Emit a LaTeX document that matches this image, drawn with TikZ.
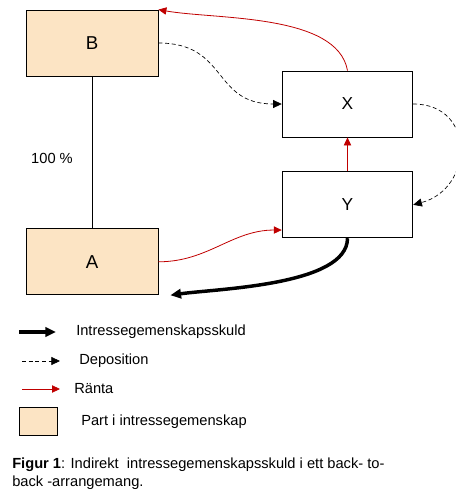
\documentclass[tikz,border=0pt]{standalone}
\usepackage{fontspec}
\setmainfont{Liberation Sans}
\usetikzlibrary{positioning, arrows.meta}
\definecolor{partfill}{HTML}{FCE4C4}
\definecolor{rantared}{HTML}{C00000}
\tikzset{
    party/.style={rectangle, draw=black, fill=partfill, line width=0.6pt, minimum width=99pt, minimum height=49.5pt, font=\fontsize{14}{16}\selectfont},
    vehicle/.style={rectangle, draw=black, fill=white, line width=0.6pt, minimum width=98pt, minimum height=49.5pt, font=\fontsize{13}{15}\selectfont},
    debt/.style={-{Triangle[length=8pt, width=7pt]}, line width=2.6pt, black},
    deposit/.style={-{Triangle[length=6.5pt, width=6pt]}, dash pattern=on 3pt off 2pt, line width=0.5pt},
    interest/.style={-{Triangle[length=6pt, width=5.5pt]}, line width=0.6pt, rantared}
}

\begin{document}
\begin{tikzpicture}[
    x=0.75pt, y=0.75pt,
    legendtext/.style={anchor=west, inner sep=0pt, font=\fontsize{11}{13}\selectfont},
    own/.style={draw=black, line width=0.6pt}
]
    \useasboundingbox (0,0) rectangle (455,-501);

    % 1. PARTER I INTRESSEGEMENSKAPEN
    \node[party] (B) at (92,-43) {B};
    \node[party] (A) [below=114pt of B] {A};
    \draw[own] (B) -- (A);
    \node[inner sep=0pt, font=\fontsize{11}{13}\selectfont] (own) at (52,-158) {100 \%};

    % 2. MELLANLIGGANDE BOLAG
    \node[vehicle] (X) at (347.5,-104) {X};
    \node[vehicle] (Y) [below=25.5pt of X] {Y};

    % 3. DEPOSITIONER (streckat)
    \draw[deposit] (B.east) to[out=0, in=180, looseness=1.3] (X.west);
    \draw[deposit] (X.east) to[out=0, in=15, looseness=1.6] (Y.east);

    % 4. RÄNTA (rött)
    \draw[interest] (A.east) to[out=0, in=180] (Y.201);
    \draw[interest] (Y.north) -- (X.south);
    \draw[interest] (X.north) to[out=100, in=-10, looseness=0.75] (B.north east);

    % 5. INTRESSEGEMENSKAPSSKULD (tjock pil tillbaka mot A)
    \coordinate (debtend) at ([xshift=9pt]A.south east);
    \draw[debt] (Y.south) to[out=-90, in=8, looseness=0.65] (debtend);

    % 6. TECKENFÖRKLARING
    \coordinate (legdebtA) at (19,-332);
    \coordinate (legdebtB) at (56,-332);
    \draw[debt] (legdebtA) -- (legdebtB);
    \node[legendtext] (legdebt) at (76,-332) {Intressegemenskapsskuld};

    \coordinate (legdepA) at (22,-361);
    \coordinate (legdepB) at (60,-361);
    \draw[deposit] (legdepA) -- (legdepB);
    \node[legendtext] (legdep) at (79,-361) {Deposition};

    \coordinate (legrateA) at (22,-389);
    \coordinate (legrateB) at (60,-389);
    \draw[interest] (legrateA) -- (legrateB);
    \node[legendtext] (legrate) at (74,-389) {Ränta};

    \node[party, minimum width=29pt, minimum height=21pt] (legpart) at (38.5,-421) {};
    \node[legendtext] (legparttext) at (81,-422) {Part i intressegemenskap};

    % 7. FIGURTEXT
    \node[anchor=west, align=left, inner sep=0pt, font=\fontsize{11}{13.5}\selectfont] (caption) at (12,-474)
        {\textbf{Figur 1}: Indirekt~ intressegemenskapsskuld i ett back- to-\\back -arrangemang.};
\end{tikzpicture}
\end{document}
